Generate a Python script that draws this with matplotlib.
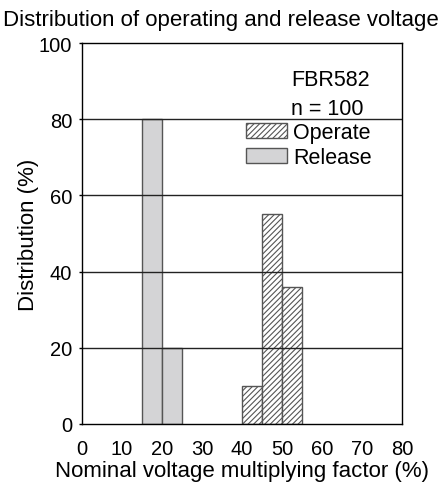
import matplotlib
matplotlib.use("Agg")
import matplotlib.pyplot as plt
from matplotlib.patches import Patch

plt.rcParams['font.family'] = ['Liberation Sans', 'DejaVu Sans']
plt.rcParams['hatch.linewidth'] = 0.8
plt.rcParams['hatch.color'] = '#222222'

# Data
release_left = [15, 20]
release_vals = [80, 20]
operate_left = [40, 45, 50]
operate_vals = [10, 55, 36]
bin_width = 5
xticks = [0, 10, 20, 30, 40, 50, 60, 70, 80]
yticks = [0, 20, 40, 60, 80, 100]

fig = plt.figure(figsize=(4.42, 4.85), dpi=100)
ax = fig.add_axes([82/442, 1-425/485, 320/442, 381/485])

ax.bar(release_left, release_vals, width=bin_width, align='edge',
       color='#d4d4d6', edgecolor='#555555', linewidth=1.0, zorder=2)
ax.bar(operate_left, operate_vals, width=bin_width, align='edge',
       color='white', edgecolor='#555555', hatch='//////', linewidth=1.0, zorder=2)

for y in [20, 40, 60, 80]:
    ax.axhline(y, color='#222222', linewidth=1.0, zorder=3)

ax.set_xlim(0, 80)
ax.set_ylim(0, 100)
ax.set_xticks(xticks)
ax.set_yticks(yticks)
ax.tick_params(axis='x', length=0, labelsize=14.5, pad=11)
ax.tick_params(axis='y', length=2, width=1.0, labelsize=14.5, pad=5)
for s in ax.spines.values():
    s.set_linewidth(1.0)
    s.set_color('black')
    s.set_zorder(4)

ax.set_xlabel('Nominal voltage multiplying factor (%)', fontsize=16, labelpad=1)
ax.set_ylabel('Distribution (%)', fontsize=16, labelpad=0)
fig.text(0.5, 1-26/485, 'Distribution of operating and release voltage',
         ha='center', va='baseline', fontsize=16)

ax.text(52.25, 90.5, 'FBR582', ha='left', va='center', fontsize=15.5)
ax.text(52.25, 82.8, 'n = 100', ha='left', va='center', fontsize=15.5)

handles = [Patch(facecolor='white', edgecolor='#555555', hatch='//////', label='Operate'),
           Patch(facecolor='#d4d4d6', edgecolor='#555555', label='Release')]
leg = ax.legend(handles=handles, loc='upper left',
                bbox_to_anchor=((246-82)/320, (425-123)/381),
                frameon=False, fontsize=15.5, handlelength=1.9, handleheight=0.7,
                handletextpad=0.3, labelspacing=0.2, borderpad=0, borderaxespad=0)
leg.set_zorder(5)

fig.savefig('out.png', dpi=100)
